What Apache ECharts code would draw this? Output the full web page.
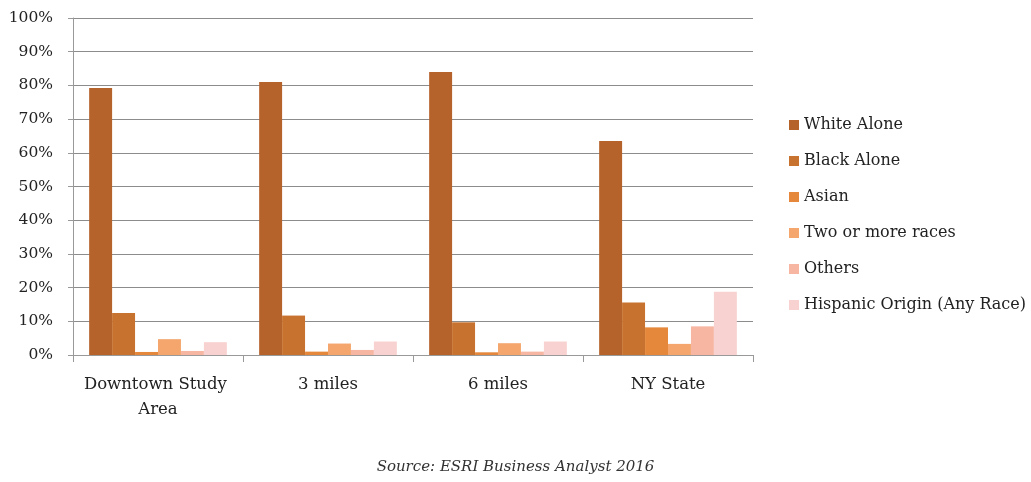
<!DOCTYPE html>
<html><head><meta charset="utf-8">
<script src="https://cdn.jsdelivr.net/npm/echarts@6/dist/echarts.min.js"></script>
<style>html,body{margin:0;padding:0;background:#fff}#c{width:1031px;height:482px}</style>
</head><body><div id="c"></div>
<script>
const categories = ["Downtown Study Area", "3 miles", "6 miles", "NY State"];
const seriesNames = ["White Alone", "Black Alone", "Asian", "Two or more races", "Others", "Hispanic Origin (Any Race)"];
const whiteAlone = [79.2, 81.0, 84.0, 63.5];
const blackAlone = [12.5, 11.7, 9.7, 15.6];
const asian = [0.9, 1.0, 0.8, 8.2];
const twoOrMore = [4.7, 3.4, 3.5, 3.3];
const others = [1.2, 1.5, 1.0, 8.5];
const hispanic = [3.8, 4.0, 4.0, 18.8];
const yTicks = [0, 10, 20, 30, 40, 50, 60, 70, 80, 90, 100];

const values = [whiteAlone, blackAlone, asian, twoOrMore, others, hispanic];
const colors = ["#B5622B", "#C8722F", "#E5883C", "#F4A66C", "#F6B6A2", "#F8D2D0"];
const serif = "'DejaVu Serif', 'Liberation Serif', serif";

const chart = echarts.init(document.getElementById('c'), null, {renderer: 'canvas'});
chart.setOption({
  animation: false,
  backgroundColor: '#fff',
  grid: {left: 73, right: 278, top: 18, bottom: 127, containLabel: false},
  legend: {
    orient: 'vertical', left: 784, top: 112,
    itemWidth: 10, itemHeight: 10, itemGap: 20,
    icon: 'rect',
    textStyle: {fontFamily: serif, fontSize: 16, color: '#222'},
    data: seriesNames
  },
  xAxis: {
    type: 'category', data: categories,
    axisLine: {lineStyle: {color: '#999', width: 1}},
    axisTick: {show: true, length: 7, lineStyle: {color: '#999'}},
    axisLabel: {fontFamily: serif, fontSize: 16.5, color: '#222', margin: 17, lineHeight: 25,
                width: 155, overflow: 'break', interval: 0}
  },
  yAxis: {
    type: 'value', min: 0, max: 100, interval: 10,
    axisLine: {show: true, lineStyle: {color: '#999'}},
    axisTick: {show: true, length: 5, inside: false, lineStyle: {color: '#999'}},
    splitLine: {lineStyle: {color: '#8c8c8c', width: 1}},
    axisLabel: {fontFamily: serif, fontSize: 15.5, color: '#222', margin: 20,
                formatter: v => yTicks.includes(v) ? v + '%' : ''}
  },
  series: seriesNames.map((n, i) => ({
    name: n, type: 'bar', data: values[i],
    barGap: '0%', barCategoryGap: '19%',
    itemStyle: {color: colors[i]}
  })),
  graphic: [{
    type: 'text', left: 'center', top: 460,
    style: {text: 'Source: ESRI Business Analyst 2016', fontFamily: serif, fontStyle: 'italic',
            fontSize: 15, fill: '#333'}
  }]
});
</script></body></html>
